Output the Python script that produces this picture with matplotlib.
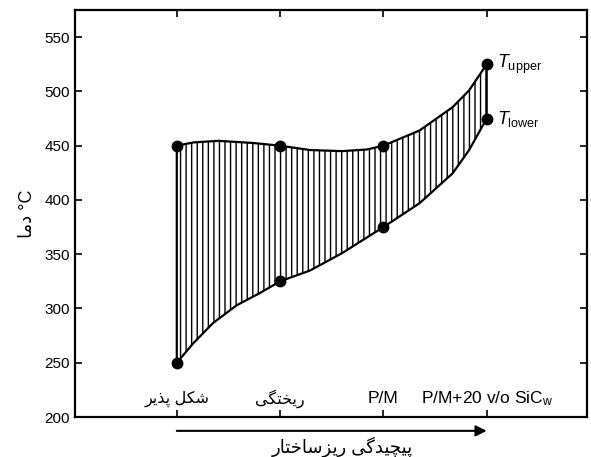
import matplotlib
matplotlib.use('Agg')
import matplotlib.pyplot as plt
import numpy as np

plt.rcParams['font.family'] = ['Liberation Sans', 'DejaVu Sans']
plt.rcParams['mathtext.fontset'] = 'custom'
plt.rcParams['mathtext.rm'] = 'Liberation Sans'
plt.rcParams['mathtext.it'] = 'Liberation Sans:italic'
plt.rcParams['hatch.linewidth'] = 1.0

# data
categories = ['شکل پذیر', 'ریختگی', 'P/M', 'P/M+20 v/o SiC$_{\\rm w}$']
t_upper = [450, 450, 450, 525]
t_lower = [250, 325, 375, 475]

# traced outline of the band (x in category units)
upper_x = [0, 0.16, 0.4, 0.74, 1, 1.29, 1.6, 1.84, 2, 2.35, 2.67, 2.83, 3]
upper_y = [450, 453, 454.5, 452.5, 450, 446, 445, 446.5, 450, 464, 485.5, 501, 525]
lower_x = [0, 0.16, 0.35, 0.58, 0.8, 1, 1.29, 1.6, 2, 2.35, 2.67, 2.83, 3]
lower_y = [250, 268, 286.5, 303, 314, 325, 335, 351, 375, 397, 424.5, 446, 475]

y_label = 'دما'
x_label = 'پیچیدگی ریزساختار'

# minimal persian shaping (presentation forms), visual order
FORMS = {
    'ا': ('\uFE8D', '\uFE8E', None, None),
    'د': ('\uFEA9', '\uFEAA', None, None),
    'ذ': ('\uFEAB', '\uFEAC', None, None),
    'ر': ('\uFEAD', '\uFEAE', None, None),
    'ز': ('\uFEAF', '\uFEB0', None, None),
    'ت': ('\uFE95', '\uFE96', '\uFE97', '\uFE98'),
    'خ': ('\uFEA5', '\uFEA6', '\uFEA7', '\uFEA8'),
    'س': ('\uFEB1', '\uFEB2', '\uFEB3', '\uFEB4'),
    'ش': ('\uFEB5', '\uFEB6', '\uFEB7', '\uFEB8'),
    'ل': ('\uFEDD', '\uFEDE', '\uFEDF', '\uFEE0'),
    'م': ('\uFEE1', '\uFEE2', '\uFEE3', '\uFEE4'),
    'پ': ('\uFB56', '\uFB57', '\uFB58', '\uFB59'),
    'چ': ('\uFB7A', '\uFB7B', '\uFB7C', '\uFB7D'),
    'ک': ('\uFB8E', '\uFB8F', '\uFB90', '\uFB91'),
    'گ': ('\uFB92', '\uFB93', '\uFB94', '\uFB95'),
    'ی': ('\uFBFC', '\uFBFD', '\uFBFE', '\uFBFF'),
}
RIGHT_ONLY = set('ادذرز')


def shape(s):
    if not any(c in FORMS for c in s):
        return s
    out = []
    for i, c in enumerate(s):
        if c not in FORMS:
            out.append(c)
            continue
        prev = s[i - 1] if i > 0 else ''
        nxt = s[i + 1] if i + 1 < len(s) else ''
        jp = prev in FORMS and prev not in RIGHT_ONLY
        jn = c not in RIGHT_ONLY and nxt in FORMS
        iso, fin, ini, med = FORMS[c]
        if jp and jn:
            out.append(med)
        elif jp:
            out.append(fin)
        elif jn:
            out.append(ini)
        else:
            out.append(iso)
    return ''.join(reversed(out))


fig = plt.figure(figsize=(5.91, 4.57), dpi=100)
ax = fig.add_axes([0.127, 0.0875, 0.866, 0.8905])

xs = np.arange(len(categories))
poly_x = np.concatenate([upper_x, lower_x[::-1]])
poly_y = np.concatenate([upper_y, lower_y[::-1]])
ax.fill(poly_x, poly_y, facecolor='white', edgecolor='black', hatch='|||', linewidth=1.6, zorder=2)

ax.plot(xs, t_upper, 'o', color='black', markersize=7.5, zorder=3)
ax.plot(xs, t_lower, 'o', color='black', markersize=7.5, zorder=3)

ax.text(xs[-1] + 0.1, t_upper[-1], '$\\mathit{T}_{\\rm upper}$', fontsize=13, va='center', ha='left')
ax.text(xs[-1] + 0.1, t_lower[-1], '$\\mathit{T}_{\\rm lower}$', fontsize=13, va='center', ha='left')

for x, lab in zip(xs, categories):
    fs = 11.5 if shape(lab) != lab else 12.5
    ax.text(x, 217, shape(lab), fontsize=fs, ha='center', va='center',
            family=['Liberation Sans', 'DejaVu Sans'])

ax.set_xlim(-0.985, 3.97)
ax.set_ylim(200, 575)
ax.set_xticks(xs)
ax.set_xticklabels([])
ax.set_yticks(np.arange(200, 551, 50))
ax.tick_params(direction='in', length=5, width=1.2, top=True, right=True, labelsize=11)
for sp in ax.spines.values():
    sp.set_linewidth(1.6)

ax.set_ylabel(shape(y_label) + ' °C', fontsize=13, labelpad=6)

ax.annotate('', xy=(xs[-1], -0.034), xytext=(xs[0], -0.034),
            xycoords=('data', 'axes fraction'), textcoords=('data', 'axes fraction'),
            arrowprops=dict(arrowstyle='-|>', color='black', lw=1.5, mutation_scale=16,
                            shrinkA=0, shrinkB=0),
            annotation_clip=False)
ax.text(1.6, -0.074, shape(x_label), fontsize=13, ha='center', va='center',
        transform=ax.get_xaxis_transform(), clip_on=False)

fig.savefig('out.png', dpi=100)
